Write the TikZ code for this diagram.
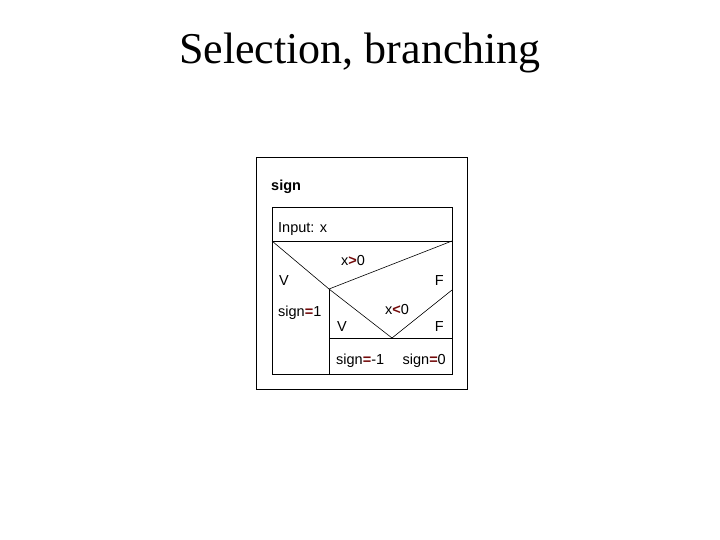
\documentclass[tikz,border=0pt]{standalone}
\usepackage{fontspec}
\setmainfont{Liberation Serif}
\newfontfamily\arialf{Liberation Sans}
\definecolor{opred}{RGB}{115,10,10}
\newcommand\redop[1]{\textcolor{opred}{\textbf{#1}}}
\begin{document}
\begin{tikzpicture}[x=1pt,y=-1pt,
  frame/.style={draw=black,line width=0.9pt},
  diag/.style={draw=black,line width=0.6pt},
  lbl/.style={font=\arialf\fontsize{14.5}{17}\selectfont,inner sep=0pt},
]
\useasboundingbox (0,0) rectangle (720,540);
\node[font=\fontsize{44}{50}\selectfont, anchor=base, inner sep=0pt] (title) at (360,64) {Selection, branching};
% outer frame
\coordinate (oTL) at (256,157);
\coordinate (oBR) at (467,389);
\draw[frame] (oTL) rectangle (oBR);
% inner structogram
\coordinate (iTL) at (272,207);
\coordinate (iBR) at (452,374);
\draw[frame] (iTL) rectangle (iBR);
\coordinate (dL) at (272,241);
\coordinate (dR) at (452,241);
\draw[frame] (dL) -- (dR);
\coordinate (v1) at (329,289);
\coordinate (v1b) at (329,374);
\draw[diag] (dL) -- (v1) -- (dR);
\draw[frame] (v1) -- (v1b);
\coordinate (v2) at (392,338);
\coordinate (r2) at (452,290);
\draw[diag] (v1) -- (v2) -- (r2);
\coordinate (bL) at (329,338);
\coordinate (bR) at (452,338);
\draw[frame] (bL) -- (bR);
% texts
\node[lbl, anchor=base west, font=\arialf\bfseries\fontsize{14.5}{17}\selectfont] (name) at (271,191) {sign};
\node[lbl, anchor=base west] (inp) at (278,233) {Input: x};
\node[lbl, anchor=base] (c1) at (353,265) {x\redop{>}0};
\node[lbl, anchor=base west] (t1) at (279,285) {V};
\node[lbl, anchor=base east] (f1) at (444,285) {F};
\node[lbl, anchor=base west] (s1) at (278,316) {sign\redop{=}1};
\node[lbl, anchor=base] (c2) at (397,314) {x\redop{<}0};
\node[lbl, anchor=base west] (t2) at (337,331) {V};
\node[lbl, anchor=base east] (f2) at (444,331) {F};
\node[lbl, anchor=base west] (s2) at (336,364) {sign\redop{=}-1};
\node[lbl, anchor=base east] (s3) at (446,364) {sign\redop{=}0};
\end{tikzpicture}
\end{document}
